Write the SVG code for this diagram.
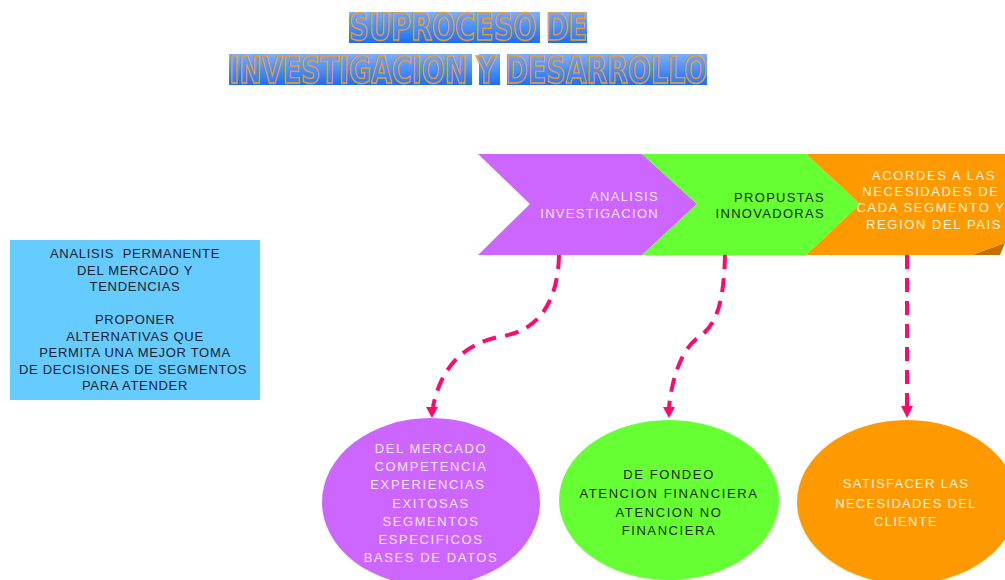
<svg xmlns="http://www.w3.org/2000/svg" width="1005" height="580" viewBox="0 0 1005 580">
<defs>
  <linearGradient id="tg" x1="0" y1="0" x2="0" y2="1">
    <stop offset="0" stop-color="#7fb0f8"/>
    <stop offset="1" stop-color="#1a6ef5"/>
  </linearGradient>
</defs>
<style>
  .ttl{font-family:"Liberation Sans Narrow","DejaVu Sans Condensed","Liberation Sans",sans-serif;font-weight:bold;font-size:37px;fill:url(#tg);stroke:#f29a1a;stroke-width:1.3}
  .box{fill:url(#tg)}
  .t{font-family:"Liberation Sans",Arial,sans-serif;font-size:13px;letter-spacing:1.3px}
  .tl{font-family:"Liberation Sans",Arial,sans-serif;font-size:13px;letter-spacing:0.7px}
  .wide{letter-spacing:1.6px}
  .mid{text-anchor:middle}
  .end{text-anchor:end}
  .lav{fill:#f3e2ff}
  .dk{fill:#1b2a05}
  .cream{fill:#fff3dc}
  .navy{fill:#16202e}
  .conn{fill:none;stroke:#ff0a6c;stroke-width:4;stroke-dasharray:14 9}
  .head{fill:#ff0a6c}
</style>

<g id="title">
  <rect class="box" x="349" y="12" width="191" height="31"/>
  <rect class="box" x="548" y="12" width="39" height="31"/>
  <rect class="box" x="229" y="54" width="243" height="31"/>
  <rect class="box" x="479" y="54" width="21" height="31"/>
  <rect class="box" x="507" y="54" width="200" height="31"/>
  <text class="ttl" x="349" y="40" textLength="238" lengthAdjust="spacingAndGlyphs">SUPROCESO DE</text>
  <text class="ttl" x="229" y="83" textLength="478" lengthAdjust="spacingAndGlyphs">INVESTIGACION Y DESARROLLO</text>
</g>

<g id="chev-analisis">
  <polygon points="478,154 642,154 697,204 642,255 478,255 530,204" fill="#cc66ff"/>
  <text class="t end lav" x="659" y="201">ANALISIS</text>
  <text class="t end lav" x="659" y="218">INVESTIGACION</text>
</g>
<g id="chev-propuestas">
  <polygon points="642,154 806,154 860,204 806,255 642,255 697,204" fill="#66ff33"/>
  <text class="t end dk" x="825" y="202">PROPUSTAS</text>
  <text class="t end dk" x="825" y="218">INNOVADORAS</text>
</g>
<g id="chev-acordes">
  <polygon points="806,154 1005,154 1005,243 972,255 806,255 860,204" fill="#ff9900"/>
  <polygon points="972,255 1005,243 1000,255" fill="#c46f00"/>
  <text class="t wide mid cream" x="934" y="180">ACORDES A LAS</text>
  <text class="t wide mid cream" x="931" y="196">NECESIDADES DE</text>
  <text class="t wide mid cream" x="931" y="212">CADA SEGMENTO Y</text>
  <text class="t wide mid cream" x="934" y="229">REGION DEL PAIS</text>
</g>

<g id="left-box">
  <rect x="10" y="240" width="250" height="160" fill="#66ccff"/>
  <text class="tl mid navy" x="135" y="258" xml:space="preserve">ANALISIS  PERMANENTE</text>
  <text class="tl mid navy" x="135" y="274.5">DEL MERCADO Y</text>
  <text class="tl mid navy" x="135" y="291">TENDENCIAS</text>
  <text class="tl mid navy" x="135" y="324">PROPONER</text>
  <text class="tl mid navy" x="135" y="340.5">ALTERNATIVAS QUE</text>
  <text class="tl mid navy" x="135" y="357">PERMITA UNA MEJOR TOMA</text>
  <text class="tl mid navy" x="133" y="373.5">DE DECISIONES DE SEGMENTOS</text>
  <text class="tl mid navy" x="135" y="390">PARA ATENDER</text>
</g>

<g id="oval-mercado">
  <ellipse cx="431" cy="502" rx="109" ry="84" fill="#cc66ff"/>
  <text class="t wide mid lav" x="431" y="453">DEL MERCADO</text>
  <text class="t wide mid lav" x="431" y="471">COMPETENCIA</text>
  <text class="t wide mid lav" x="428" y="489">EXPERIENCIAS</text>
  <text class="t wide mid lav" x="431" y="508">EXITOSAS</text>
  <text class="t wide mid lav" x="431" y="526">SEGMENTOS</text>
  <text class="t wide mid lav" x="431" y="544">ESPECIFICOS</text>
  <text class="t wide mid lav" x="431" y="562">BASES DE DATOS</text>
</g>
<g id="oval-fondeo">
  <ellipse cx="669" cy="500" rx="110" ry="80" fill="#66ff33"/>
  <text class="t wide mid dk" x="669" y="479">DE FONDEO</text>
  <text class="t wide mid dk" x="669" y="498">ATENCION FINANCIERA</text>
  <text class="t wide mid dk" x="669" y="517">ATENCION NO</text>
  <text class="t wide mid dk" x="669" y="535">FINANCIERA</text>
</g>
<g id="oval-satisfacer">
  <ellipse cx="907" cy="502" rx="110" ry="82" fill="#ff9900"/>
  <text class="t mid cream" x="906" y="488">SATISFACER LAS</text>
  <text class="t mid cream" x="906" y="508">NECESIDADES DEL</text>
  <text class="t mid cream" x="906" y="526">CLIENTE</text>
</g>

<g id="connectors">
  <path class="conn" d="M559,255 C558,300 540,330 503,336 C462,343 440,370 433,407"/>
  <polygon class="head" points="426,407 438,407 432,418"/>
  <path class="conn" d="M725,255 C724,300 717,325 700,336 C680,350 672,380 669,407"/>
  <polygon class="head" points="663,407 675,407 669,418"/>
  <path class="conn" d="M907,255 L907,407"/>
  <polygon class="head" points="901,406 913,406 907,418"/>
</g>
</svg>
